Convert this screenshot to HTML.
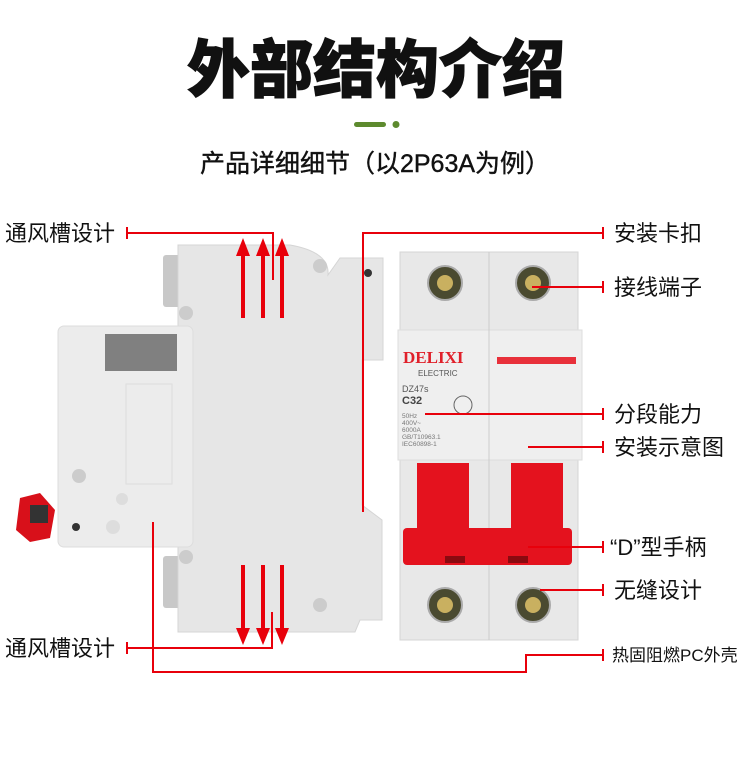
<!DOCTYPE html>
<html><head><meta charset="utf-8"><style>
body{margin:0;width:750px;height:757px;background:#fff;overflow:hidden;font-family:"Liberation Sans","Noto Sans CJK SC",sans-serif}
</style></head><body>
<svg width="750" height="757" xmlns="http://www.w3.org/2000/svg" font-family="Liberation Sans, Noto Sans CJK SC, sans-serif">
<text x="376" y="92" text-anchor="middle" font-size="63" font-weight="900" fill="#111" stroke="#111" stroke-width="1">外部结构介绍</text>
<rect x="354" y="122" width="32" height="5" rx="2.5" fill="#5d8a2e"/>
<circle cx="396" cy="124.5" r="3.5" fill="#5d8a2e"/>
<text x="375" y="172" text-anchor="middle" font-size="25" fill="#111" stroke="#111" stroke-width="0.4">产品详细细节（以2P63A为例）</text>

<!-- left device -->
<rect x="163" y="255" width="20" height="52" rx="3" fill="#c8c8c8"/>
<rect x="163" y="556" width="20" height="52" rx="3" fill="#c8c8c8"/>
<path d="M178 245 H290 Q330 252 328 275 L340 258 H383 V360 H362 V505 L382 520 V620 H360 L355 632 H178 Z" fill="#e6e6e6" stroke="#d5d5d5"/>
<rect x="58" y="326" width="135" height="221" rx="6" fill="#ececec" stroke="#ddd"/>
<rect x="105" y="334" width="72" height="37" fill="#808080"/>
<rect x="126" y="384" width="46" height="100" fill="none" stroke="#ddd"/>
<circle cx="79" cy="476" r="7" fill="#ccc"/><circle cx="122" cy="499" r="6" fill="#ddd"/><circle cx="76" cy="527" r="4" fill="#333"/><circle cx="113" cy="527" r="7" fill="#ddd"/>
<circle cx="186" cy="313" r="7" fill="#ccc"/><circle cx="320" cy="266" r="7" fill="#ccc"/><circle cx="186" cy="557" r="7" fill="#ccc"/><circle cx="320" cy="605" r="7" fill="#ccc"/>
<circle cx="368" cy="273" r="4" fill="#333"/>
<path d="M20 498 L40 493 L55 510 L50 538 L30 542 L16 530 Z" fill="#d8101a"/>
<rect x="30" y="505" width="18" height="18" fill="#333"/>

<!-- arrows -->
<g fill="#e8000b" stroke="#e8000b">
<g stroke-width="4"><line x1="243" y1="252" x2="243" y2="318"/><line x1="263" y1="252" x2="263" y2="318"/><line x1="282" y1="252" x2="282" y2="318"/>
<line x1="243" y1="565" x2="243" y2="632"/><line x1="263" y1="565" x2="263" y2="632"/><line x1="282" y1="565" x2="282" y2="632"/></g>
<g stroke="none"><path d="M236 256 L243 238 L250 256Z"/><path d="M256 256 L263 238 L270 256Z"/><path d="M275 256 L282 238 L289 256Z"/>
<path d="M236 628 L243 645 L250 628Z"/><path d="M256 628 L263 645 L270 628Z"/><path d="M275 628 L282 645 L289 628Z"/></g>
</g>

<!-- right device -->
<rect x="400" y="252" width="178" height="388" fill="#e8e8e8" stroke="#d5d5d5"/>
<rect x="398" y="330" width="184" height="130" fill="#efefef" stroke="#ddd"/>
<line x1="489" y1="252" x2="489" y2="640" stroke="#ccc"/>
<g fill="#4a4a30" stroke="#aaa" stroke-width="2"><circle cx="445" cy="283" r="17"/><circle cx="533" cy="283" r="17"/><circle cx="445" cy="605" r="17"/><circle cx="533" cy="605" r="17"/></g>
<g fill="#c9b060"><circle cx="445" cy="283" r="8"/><circle cx="533" cy="283" r="8"/><circle cx="445" cy="605" r="8"/><circle cx="533" cy="605" r="8"/></g>
<text x="403" y="363" font-size="17" font-weight="bold" fill="#e0202a" font-family="Liberation Serif, serif">DELIXI</text>
<text x="418" y="376" font-size="8" fill="#555">ELECTRIC</text>
<rect x="497" y="357" width="79" height="7" fill="#e8303a"/>
<text x="402" y="392" font-size="9" fill="#555">DZ47s</text>
<text x="402" y="404" font-size="11" font-weight="bold" fill="#444">C32</text>
<circle cx="463" cy="405" r="9" fill="none" stroke="#666"/>
<text x="402" y="418" font-size="6.5" fill="#777">50Hz</text><text x="402" y="425" font-size="6.5" fill="#777">400V~</text><text x="402" y="432" font-size="6.5" fill="#777">6000A</text><text x="402" y="439" font-size="6.5" fill="#777">GB/T10963.1</text><text x="402" y="446" font-size="6.5" fill="#777">IEC60898-1</text>
<rect x="417" y="463" width="52" height="70" fill="#e4121e"/>
<rect x="511" y="463" width="52" height="70" fill="#e4121e"/>
<rect x="403" y="528" width="169" height="37" rx="4" fill="#e4121e"/>
<rect x="445" y="556" width="20" height="7" fill="#8a0a10"/><rect x="508" y="556" width="20" height="7" fill="#8a0a10"/>

<!-- connector lines -->
<g stroke="#e8000b" stroke-width="2" fill="none">
<path d="M127 233 H273 V280"/><path d="M127 227 V239"/>
<path d="M127 648 H272 V612"/><path d="M127 642 V654"/>
<path d="M153 522 V672 H526 V655 H603"/><path d="M603 649 V661"/>
<path d="M363 512 V233 H603"/><path d="M603 227 V239"/>
<path d="M532 287 H603"/><path d="M603 281 V293"/>
<path d="M425 414 H603"/><path d="M603 408 V420"/>
<path d="M528 447 H603"/><path d="M603 441 V453"/>
<path d="M528 547 H603"/><path d="M603 541 V553"/>
<path d="M540 590 H603"/><path d="M603 584 V596"/>
</g>
<g font-size="22" fill="#111">
<text x="5" y="241">通风槽设计</text>
<text x="5" y="656">通风槽设计</text>
<text x="614" y="241">安装卡扣</text>
<text x="614" y="295">接线端子</text>
<text x="614" y="422">分段能力</text>
<text x="614" y="455">安装示意图</text>
<text x="610" y="555">“D”型手柄</text>
<text x="614" y="598">无缝设计</text>
<text x="612" y="661" font-size="17">热固阻燃PC外壳</text>
</g>
</svg>
</body></html>
